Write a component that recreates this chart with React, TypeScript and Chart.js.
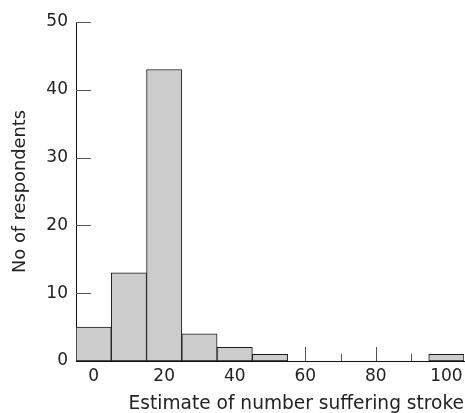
import React, { useEffect, useRef } from "react";
import { Chart, registerables } from "chart.js";

Chart.register(...registerables);

// Data
const binCenters = [0, 10, 20, 30, 40, 50, 60, 70, 80, 90, 100];
const respondents = [5, 13, 43, 4, 2, 1, 0, 0, 0, 0, 1];
const xLabelValues = [0, 20, 40, 60, 80, 100];
const xTickMarks = [60, 70, 80, 90];
const yTickMarks = [10, 20, 30, 40, 50];
const xTitle = "Estimate of number suffering stroke";
const yTitle = "No of respondents";

const FONT = "DejaVu Sans";

const innerTicks = {
  id: "innerTicks",
  beforeDatasetsDraw(chart: any) {
    const ctx = chart.ctx;
    const x = chart.scales.x;
    const y = chart.scales.y;
    const area = chart.chartArea;
    ctx.save();
    ctx.strokeStyle = "#555";
    ctx.lineWidth = 1;
    ctx.beginPath();
    for (const v of yTickMarks) {
      const py = Math.round(y.getPixelForValue(v)) + 0.5;
      ctx.moveTo(area.left, py);
      ctx.lineTo(area.left + 15, py);
    }
    for (const v of xTickMarks) {
      const px = Math.round(x.getPixelForValue(v)) + 0.5;
      const len = v % 20 === 0 ? 14 : 7;
      ctx.moveTo(px, area.bottom);
      ctx.lineTo(px, area.bottom - len);
    }
    ctx.stroke();
    ctx.restore();
  },
};

export default function App() {
  const ref = useRef<HTMLCanvasElement>(null);
  useEffect(() => {
    document.body.style.margin = "0";
    const chart = new Chart(ref.current!, {
      type: "bar",
      data: {
        datasets: [
          {
            data: binCenters.map((c, i) => ({ x: c, y: respondents[i] })),
            backgroundColor: "#cccccc",
            borderColor: "#1a1a1a",
            borderWidth: 1,
            borderSkipped: false,
            barPercentage: 1,
            categoryPercentage: 1,
          },
        ],
      },
      options: {
        responsive: false,
        animation: false,
        devicePixelRatio: 1,
        layout: { padding: { left: 10, top: 22, right: 1, bottom: 0 } },
        plugins: { legend: { display: false }, tooltip: { enabled: false } },
        scales: {
          x: {
            type: "linear",
            min: -5,
            max: 105,
            offset: false,
            grid: { display: false, drawTicks: false, offset: false },
            border: { display: true, color: "#111", width: 1 },
            afterBuildTicks: (s: any) => {
              s.ticks = xLabelValues.map((v) => ({ value: v }));
            },
            afterFit: (s: any) => {
              s.height = 52;
              s.paddingLeft = 0;
              s.paddingRight = 1;
            },
            ticks: {
              color: "#222",
              font: { family: FONT, size: 17 },
              padding: 5,
              maxRotation: 0,
              autoSkip: false,
            },
            title: {
              display: true,
              text: xTitle,
              align: "end",
              color: "#222",
              font: { family: FONT, size: 18.6, lineHeight: 1 },
              padding: 0,
            },
          },
          y: {
            min: 0,
            max: 50,
            grid: { display: false, drawTicks: false },
            border: { display: true, color: "#111", width: 1 },
            afterFit: (s: any) => {
              s.width = 66;
            },
            ticks: {
              stepSize: 10,
              color: "#222",
              font: { family: FONT, size: 17 },
              padding: 8,
            },
            title: {
              display: true,
              text: yTitle,
              color: "#222",
              font: { family: FONT, size: 17.8 },
              padding: 0,
            },
          },
        },
      },
      plugins: [innerTicks],
    });
    return () => chart.destroy();
  }, []);
  return (
    <canvas
      ref={ref}
      width={465}
      height={413}
      style={{ display: "block", width: 465, height: 413 }}
    />
  );
}
